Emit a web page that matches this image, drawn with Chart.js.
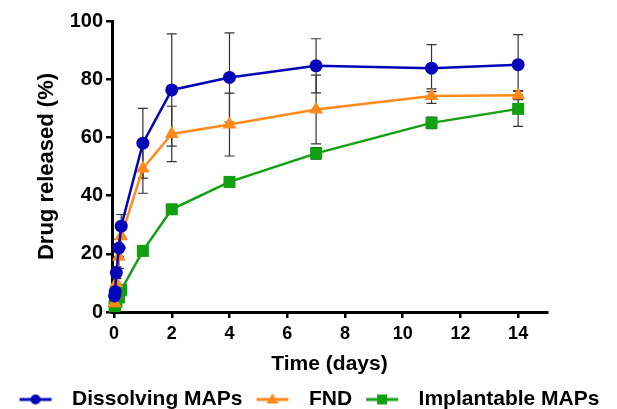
<!DOCTYPE html>
<html>
<head>
<meta charset="utf-8">
<script src="https://cdn.jsdelivr.net/npm/chart.js@4/dist/chart.umd.min.js"></script>
<style>
  html, body { margin: 0; padding: 0; background: #fff; }
  #wrap { width: 617px; height: 409px; }
</style>
</head>
<body>
<div id="wrap"><canvas id="myChart" width="617" height="409"></canvas></div>
<script>
// time points (days)
const times = [0.02, 0.04, 0.08, 0.17, 0.25, 1, 2, 4, 7, 11, 14];

const dissolving    = [5.5, 7, 13.5, 22, 29.5, 58, 76.3, 80.6, 84.6, 83.8, 85];
const dissolvingErr = [1, 1.5, 2, 3, 4, 12, 19.3, 15.3, 9.3, 8.1, 10.3];
const fnd           = [3, 6, 10, 19, 26, 49.3, 61.2, 64.4, 69.6, 74.2, 74.5];
const fndErr        = [1, 2, 3, 4, 4, 8.5, 9.5, 10.8, 11.8, 2.5, 1.5];
const implantable    = [2, 2.5, 3.5, 5, 7.6, 21, 35.3, 44.7, 54.5, 65, 69.8];
const implantableErr = [0.5, 0.5, 1, 1, 1, 1.5, 1.5, 1.5, 2, 2, 6];

const seriesNames = ['Dissolving MAPs', 'FND', 'Implantable MAPs'];
const xTicks = [0, 2, 4, 6, 8, 10, 12, 14];

const FONT = "'Liberation Sans', Arial, sans-serif";
const BLUE = '#0505b8', ORANGE = '#ff8a1a', GREEN = '#10a010';

function pts(ys) { return times.map((t, i) => ({ x: t, y: ys[i] })); }

// little line + marker image for the legend
function legendIcon(color, style) {
  const c = document.createElement('canvas');
  c.width = 44; c.height = 16;
  const g = c.getContext('2d');
  g.strokeStyle = color; g.lineWidth = 3;
  g.beginPath(); g.moveTo(2, 8); g.lineTo(34, 8); g.stroke();
  g.fillStyle = color;
  g.beginPath();
  if (style === 'circle') g.arc(18, 8, 5, 0, Math.PI * 2);
  else if (style === 'triangle') { g.moveTo(18, 2); g.lineTo(24, 12); g.lineTo(12, 12); g.closePath(); }
  else g.rect(13, 3, 10, 10);
  g.fill();
  return c;
}

const errorBars = {
  id: 'errorBars',
  beforeDatasetsDraw(chart) {
    const ctx = chart.ctx, xs = chart.scales.x, ys = chart.scales.y;
    ctx.save();
    ctx.strokeStyle = '#333';
    ctx.lineWidth = 1.2;
    chart.data.datasets.forEach(ds => {
      ds.data.forEach((p, i) => {
        const e = ds.errors[i];
        const px = xs.getPixelForValue(p.x);
        const top = ys.getPixelForValue(p.y + e), bot = ys.getPixelForValue(p.y - e);
        ctx.beginPath();
        ctx.moveTo(px, top); ctx.lineTo(px, bot);
        ctx.moveTo(px - 5, top); ctx.lineTo(px + 5, top);
        ctx.moveTo(px - 5, bot); ctx.lineTo(px + 5, bot);
        ctx.stroke();
      });
    });
    ctx.restore();
  }
};

const icons = [legendIcon(BLUE, 'circle'), legendIcon(ORANGE, 'triangle'), legendIcon(GREEN, 'rect')];

const ctx = document.getElementById('myChart').getContext('2d');
const myChart = new Chart(ctx, {
  type: 'line',
  data: {
    datasets: [
      { label: seriesNames[0], data: pts(dissolving), errors: dissolvingErr,
        borderColor: BLUE, backgroundColor: BLUE, pointStyle: 'circle', pointRadius: 6.5 },
      { label: seriesNames[1], data: pts(fnd), errors: fndErr,
        borderColor: ORANGE, backgroundColor: ORANGE, pointStyle: 'triangle', pointRadius: 8 },
      { label: seriesNames[2], data: pts(implantable), errors: implantableErr,
        borderColor: GREEN, backgroundColor: GREEN, pointStyle: 'rect', pointRadius: 8.5 }
    ]
  },
  options: {
    responsive: false,
    animation: false,
    layout: { padding: { top: 21, right: 0, left: 0, bottom: -11 } },
    elements: {
      line: { borderWidth: 2.5, tension: 0 },
      point: { borderWidth: 0, hoverRadius: 6 }
    },
    clip: false,
    plugins: {
      tooltip: { enabled: false },
      legend: {
        position: 'bottom',
        labels: {
          usePointStyle: true,
          pointStyleWidth: 44,
          padding: 12,
          color: '#000',
          font: { family: FONT, size: 21, weight: 'bold' },
          generateLabels: chart => chart.data.datasets.map((ds, i) => ({
            text: ds.label, pointStyle: icons[i], fillStyle: ds.borderColor,
            strokeStyle: ds.borderColor, lineWidth: 0, hidden: false, datasetIndex: i
          }))
        }
      }
    },
    scales: {
      x: {
        type: 'linear', min: -0.07, max: 15,
        afterFit: s => { s.height = 65; },
        afterBuildTicks: s => { s.ticks = xTicks.map(v => ({ value: v })); },
        border: { display: true, color: '#000', width: 3 },
        grid: { drawOnChartArea: false, drawTicks: true, tickLength: 6, color: '#000', lineWidth: 2.5 },
        ticks: { padding: 5, color: '#000', font: { family: FONT, size: 18, weight: 'bold' } },
        title: { display: true, text: 'Time (days)', color: '#000', padding: 0,
                 font: { family: FONT, size: 21, weight: 'bold' } }
      },
      y: {
        min: 0, max: 100,
        afterFit: s => { s.width = 112; },
        border: { display: true, color: '#000', width: 3 },
        grid: { drawOnChartArea: false, drawTicks: true, tickLength: 6, color: '#000', lineWidth: 2.5 },
        ticks: { stepSize: 20, padding: 3, color: '#000', font: { family: FONT, size: 20, weight: 'bold' } },
        title: { display: true, text: 'Drug released (%)', color: '#000', padding: { top: 34 },
                 font: { family: FONT, size: 22, weight: 'bold' } }
      },
      // empty right-hand space so the plot stops at x = 15 while the legend keeps full width
      yRight: {
        position: 'right', min: 0, max: 100,
        afterFit: s => { s.width = 70; },
        border: { display: false },
        grid: { display: false },
        ticks: { display: false }
      }
    }
  },
  plugins: [errorBars]
});
</script>
</body>
</html>
